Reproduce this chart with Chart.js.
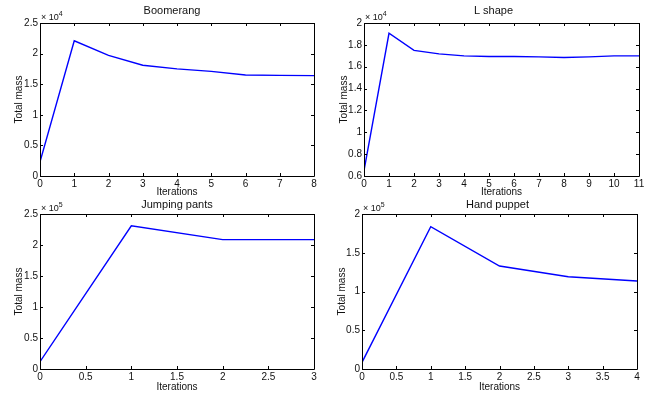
<!DOCTYPE html>
<html>
<head>
<meta charset="utf-8">
<script src="https://cdn.jsdelivr.net/npm/chart.js@4"></script>
<style>
  body { margin: 0; background: #fff; }
  #wrap { position: relative; width: 653px; height: 394px; }
  canvas { position: absolute; }
</style>
</head>
<body>
<div id="wrap">
  <canvas id="boomerang" width="327" height="197" style="left:0;top:0"></canvas>
  <canvas id="lshape" width="326" height="197" style="left:327px;top:0"></canvas>
  <canvas id="pants" width="327" height="197" style="left:0;top:197px"></canvas>
  <canvas id="puppet" width="326" height="197" style="left:327px;top:197px"></canvas>
</div>
<script>
// data
const boomerangIters = [0, 1, 2, 3, 4, 5, 6, 7, 8];
const boomerangMass = [2300, 22100, 19700, 18100, 17500, 17100, 16500, 16450, 16400];
const boomerangXTicks = [0, 1, 2, 3, 4, 5, 6, 7, 8];
const boomerangYTicks = [0, 5000, 10000, 15000, 20000, 25000];

const lShapeIters = [0, 1, 2, 3, 4, 5, 6, 7, 8, 9, 10, 11];
const lShapeMass = [6500, 19060, 17500, 17170, 16990, 16930, 16930, 16900, 16840, 16900, 16990, 16990];
const lShapeXTicks = [0, 1, 2, 3, 4, 5, 6, 7, 8, 9, 10, 11];
const lShapeYTicks = [6000, 8000, 10000, 12000, 14000, 16000, 18000, 20000];

const pantsIters = [0, 1, 2, 3];
const pantsMass = [11800, 231000, 208600, 208600];
const pantsXTicks = [0, 0.5, 1, 1.5, 2, 2.5, 3];
const pantsYTicks = [0, 50000, 100000, 150000, 200000, 250000];

const puppetIters = [0, 1, 2, 3, 4];
const puppetMass = [8600, 183700, 132900, 119100, 113500];
const puppetXTicks = [0, 0.5, 1, 1.5, 2, 2.5, 3, 3.5, 4];
const puppetYTicks = [0, 50000, 100000, 150000, 200000];

const FONT = "'Liberation Sans', Arial, Helvetica, sans-serif";

// box, inward ticks, title and exponent label, matlab style
const matlabFrame = {
  id: "matlabFrame",
  afterDraw(chart, args, opts) {
    const { ctx, chartArea: a } = chart;
    const xs = chart.scales.x, ys = chart.scales.y;
    ctx.save();
    ctx.strokeStyle = "#000";
    ctx.lineWidth = 1;
    ctx.beginPath();
    ctx.rect(Math.round(a.left) + 0.5, Math.round(a.top) + 0.5,
             Math.round(a.right - a.left), Math.round(a.bottom - a.top));
    xs.ticks.forEach(t => {
      const px = Math.round(xs.getPixelForValue(t.value)) + 0.5;
      ctx.moveTo(px, a.bottom); ctx.lineTo(px, a.bottom - 3);
      ctx.moveTo(px, a.top); ctx.lineTo(px, a.top + 3);
    });
    ys.ticks.forEach(t => {
      const py = Math.round(ys.getPixelForValue(t.value)) + 0.5;
      ctx.moveTo(a.left, py); ctx.lineTo(a.left + 3, py);
      ctx.moveTo(a.right, py); ctx.lineTo(a.right - 3, py);
    });
    ctx.stroke();

    ctx.fillStyle = "#111";
    ctx.textAlign = "center";
    ctx.textBaseline = "middle";
    ctx.font = "11px " + FONT;
    ctx.fillText(opts.title, (a.left + a.right) / 2 + opts.titleDx, opts.titleY);

    ctx.textAlign = "left";
    ctx.textBaseline = "alphabetic";
    ctx.font = "9px " + FONT;
    ctx.fillText("\u00d7 10", a.left + 1, a.top - 3);
    const w = ctx.measureText("\u00d7 10").width;
    ctx.font = "7px " + FONT;
    ctx.fillText(String(opts.exp), a.left + 1 + w, a.top - 7);
    ctx.restore();
  }
};

function fmt(v) {
  return String(+v.toFixed(2));
}

function makePanel(id, iters, mass, xTicks, yTicks, p) {
  const scaleDiv = Math.pow(10, p.exp);
  const H = 197;
  return new Chart(document.getElementById(id), {
    type: "line",
    data: {
      datasets: [{
        data: iters.map((x, i) => ({ x: x, y: mass[i] })),
        borderColor: "#0000ff",
        borderWidth: 1.4,
        pointRadius: 0,
        tension: 0,
        fill: false
      }]
    },
    options: {
      responsive: false,
      animation: false,
      layout: { padding: { top: p.top, right: p.right, left: 0, bottom: 0 } },
      plugins: {
        legend: { display: false },
        tooltip: { enabled: false },
        matlabFrame: { title: p.title, titleY: p.titleY, titleDx: p.titleDx, exp: p.exp }
      },
      scales: {
        x: {
          type: "linear",
          min: xTicks[0],
          max: xTicks[xTicks.length - 1],
          afterBuildTicks: s => { s.ticks = xTicks.map(v => ({ value: v })); },
          afterFit: s => { s.height = H - p.bottom; },
          grid: { display: false, drawTicks: false },
          border: { display: false },
          ticks: {
            padding: 2,
            maxRotation: 0,
            autoSkip: false,
            color: "#111",
            font: { family: FONT, size: 10 },
            callback: v => fmt(v)
          },
          title: {
            display: true,
            text: "Iterations",
            color: "#111",
            font: { family: FONT, size: 10, lineHeight: 1 },
            padding: { top: 0, bottom: p.xTitlePad }
          }
        },
        y: {
          type: "linear",
          min: yTicks[0],
          max: yTicks[yTicks.length - 1],
          afterBuildTicks: s => { s.ticks = yTicks.map(v => ({ value: v })); },
          afterFit: s => { s.width = p.left; },
          grid: { display: false, drawTicks: false },
          border: { display: false },
          ticks: {
            padding: 2,
            autoSkip: false,
            color: "#111",
            font: { family: FONT, size: 10 },
            callback: v => fmt(v / scaleDiv)
          },
          title: {
            display: true,
            text: "Total mass",
            color: "#111",
            font: { family: FONT, size: 10, lineHeight: 1 },
            padding: { top: p.yTitlePad, bottom: 0 }
          }
        }
      }
    },
    plugins: [matlabFrame]
  });
}

makePanel("boomerang", boomerangIters, boomerangMass, boomerangXTicks, boomerangYTicks,
  { title: "Boomerang", exp: 4, left: 40, right: 13, top: 23, bottom: 176,
    titleY: 11, titleDx: -5, xTitlePad: 0, yTitlePad: 14 });
makePanel("lshape", lShapeIters, lShapeMass, lShapeXTicks, lShapeYTicks,
  { title: "L shape", exp: 4, left: 37, right: 14, top: 23, bottom: 176,
    titleY: 11, titleDx: -8, xTitlePad: 0, yTitlePad: 12 });
makePanel("pants", pantsIters, pantsMass, pantsXTicks, pantsYTicks,
  { title: "Jumping pants", exp: 5, left: 40, right: 13, top: 17, bottom: 172,
    titleY: 8, titleDx: 0, xTitlePad: 2, yTitlePad: 14 });
makePanel("puppet", puppetIters, puppetMass, puppetXTicks, puppetYTicks,
  { title: "Hand puppet", exp: 5, left: 35, right: 16, top: 17, bottom: 172,
    titleY: 8, titleDx: -2, xTitlePad: 2, yTitlePad: 10 });
</script>
</body>
</html>
